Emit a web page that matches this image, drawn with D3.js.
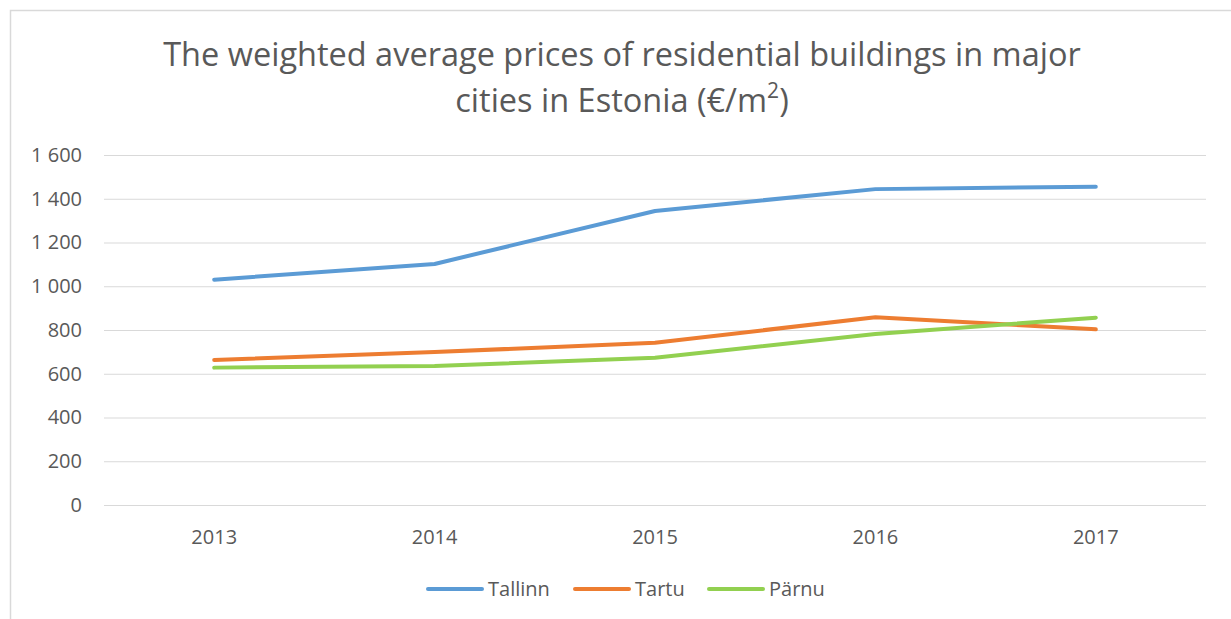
<!DOCTYPE html>
<html>
<head>
<meta charset="utf-8">
<script src="https://cdn.jsdelivr.net/npm/d3@7"></script>
<style>
  body { margin: 0; background: #fff; }
  svg { display: block; font-family: "Open Sans", "Noto Sans", sans-serif; }
</style>
</head>
<body>
<svg id="chart" width="1231" height="619"></svg>
<script>
const years = ['2013', '2014', '2015', '2016', '2017'];
const tallinn = [1030, 1102, 1344, 1444, 1455];
const tartu = [663, 699, 742, 858, 803];
const parnu = [628, 635, 673, 782, 856];
const yTicks = [0, 200, 400, 600, 800, 1000, 1200, 1400, 1600];

const series = [
    {name: 'Tallinn', values: tallinn, color: '#5B9BD5'},
    {name: 'Tartu', values: tartu, color: '#ED7D31'},
    {name: 'Pärnu', values: parnu, color: '#92D050'}
];

const svg = d3.select('#chart');
const margin = {top: 155, left: 104, right: 25, bottom: 114};
const width = 1231 - margin.left - margin.right;
const height = 619 - margin.top - margin.bottom;

// outer chart frame (cropped on right and bottom)
svg.append('path')
    .attr('d', 'M10.5,619 L10.5,10.5 L1231,10.5')
    .attr('fill', 'none')
    .attr('stroke', '#D9D9D9')
    .attr('stroke-width', 1.5);

const title = svg.append('text')
    .attr('x', 622)
    .attr('text-anchor', 'middle')
    .attr('fill', '#595959')
    .attr('font-size', 32.5);
title.append('tspan').attr('x', 622).attr('y', 66)
    .text('The weighted average prices of residential buildings in major');
const t2 = title.append('tspan').attr('x', 622).attr('y', 112)
    .text('cities in Estonia (€/m');
t2.append('tspan').attr('baseline-shift', 'super').attr('font-size', 21).text('2');
t2.append('tspan').text(')');

const g = svg.append('g')
    .attr('transform', `translate(${margin.left},${margin.top})`);

const xScale = d3.scaleBand()
    .domain(years)
    .range([0, width]);
const yScale = d3.scaleLinear()
    .domain([0, 1600])
    .range([height, 0]);

const yAxis = d3.axisLeft(yScale)
    .tickValues(yTicks)
    .tickSize(-width)
    .tickPadding(22)
    .tickFormat(d => d3.format(',')(d).replace(',', ' '));
g.append('g').call(yAxis)
    .call(a => a.select('.domain').remove())
    .call(a => a.selectAll('line').attr('stroke', '#D9D9D9').attr('stroke-width', 1))
    .call(a => a.selectAll('text').attr('fill', '#595959').attr('font-size', 20)
        .attr('font-family', '"Open Sans", sans-serif'));

const xAxis = d3.axisBottom(xScale)
    .tickSize(0)
    .tickPadding(25);
g.append('g').call(xAxis)
    .attr('transform', `translate(0,${height})`)
    .call(a => a.select('.domain').remove())
    .call(a => a.selectAll('text').attr('fill', '#595959').attr('font-size', 20)
        .attr('font-family', '"Open Sans", sans-serif'));

const line = d3.line()
    .x((d, i) => xScale(years[i]) + xScale.bandwidth() / 2)
    .y(d => yScale(d));

g.selectAll('.series').data(series)
    .enter().append('path')
        .attr('class', 'series')
        .attr('d', d => line(d.values))
        .attr('fill', 'none')
        .attr('stroke', d => d.color)
        .attr('stroke-width', 4)
        .attr('stroke-linecap', 'round')
        .attr('stroke-linejoin', 'round');

// legend
const legendX = [428, 575, 709];
const legend = svg.selectAll('.legend').data(series)
    .enter().append('g')
        .attr('class', 'legend')
        .attr('transform', (d, i) => `translate(${legendX[i]},589)`);
legend.append('line')
    .attr('x1', 0).attr('x2', 54)
    .attr('stroke', d => d.color)
    .attr('stroke-width', 4)
    .attr('stroke-linecap', 'round');
legend.append('text')
    .attr('x', 60)
    .attr('dy', '0.35em')
    .attr('fill', '#595959')
    .attr('font-size', 20)
    .text(d => d.name);
</script>
</body>
</html>
